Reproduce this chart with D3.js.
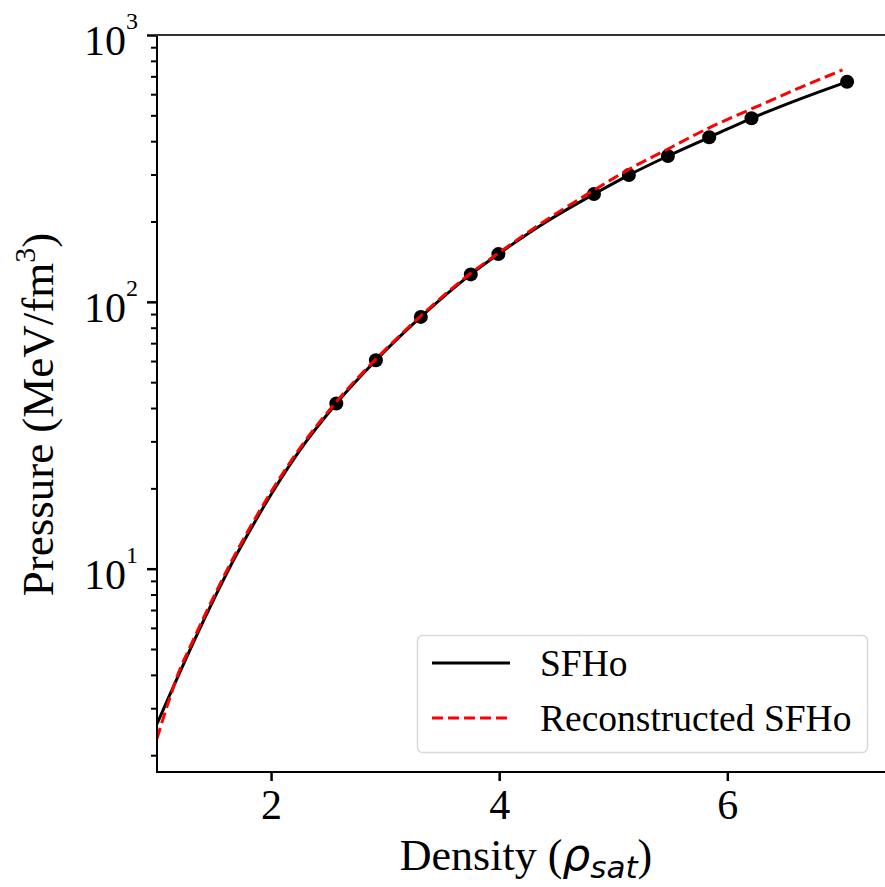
<!DOCTYPE html>
<html>
<head>
<meta charset="utf-8">
<script src="https://cdn.jsdelivr.net/npm/d3@7/dist/d3.min.js"></script>
<style>
body { margin: 0; background: #fff; }
text { font-family: "Liberation Serif", "Times New Roman", serif; fill: #000; }
</style>
</head>
<body>
<script>

// tick labels
var densityTicks = [2, 4, 6];
var pressureTicks = [10, 100, 1000];
var pressureExponents = ["1", "2", "3"];

// SFHo curve
var sfhoDensity = [1.0, 1.1, 1.2, 1.3, 1.4, 1.5, 1.65, 1.8, 2.0, 2.25, 2.572, 2.919, 3.313, 3.751, 3.993, 4.4, 4.831, 5.137, 5.479, 5.841, 6.212, 6.6, 7.05];
var sfhoPressure = [2.62, 3.28, 4.09, 5.08, 6.28, 7.71, 10.35, 13.55, 18.97, 27.7, 41.6, 60.4, 87.8, 126.7, 151, 198, 253.5, 298.6, 352, 413.6, 487.5, 568, 668];

// sampled points (black dots)
var sampleDensity = [2.572, 2.919, 3.313, 3.751, 3.993, 4.831, 5.137, 5.479, 5.841, 6.212, 7.05];
var samplePressure = [41.6, 60.4, 87.8, 126.7, 151, 253.5, 298.6, 352, 413.6, 487.5, 668];

// reconstructed curve
var reconDensity = [1.0, 1.1, 1.2, 1.3, 1.4, 1.5, 1.65, 1.8, 2.0, 2.25, 2.572, 2.919, 3.313, 3.751, 4.0, 4.4, 4.83, 5.15, 5.48, 5.84, 6.21, 6.6, 7.01];
var reconPressure = [2.31, 3.16, 4.19, 5.2, 6.43, 7.89, 10.6, 13.9, 19.4, 28.2, 42.2, 61.0, 88.6, 128, 153, 201, 262, 316, 374, 449, 528, 625, 740];

var seriesNames = ["SFHo", "Reconstructed SFHo"];

var width = 885,
    height = 887,
    plotLeft = 157, plotRight = 895, plotTop = 35, plotBottom = 772;

var svg = d3.select("body").append("svg")
    .attr("width", width)
    .attr("height", height);

var x = d3.scaleLinear()
    .domain([1, 7.47])
    .range([plotLeft, plotRight]);

var y = d3.scaleLog()
    .domain([1.73, 1000])
    .range([plotBottom, plotTop]);

svg.append("clipPath")
    .attr("id", "plot")
  .append("rect")
    .attr("x", plotLeft)
    .attr("y", plotTop)
    .attr("width", plotRight - plotLeft)
    .attr("height", plotBottom - plotTop);

var line = d3.line()
    .x(function(d) { return x(d[0]); })
    .y(function(d) { return y(d[1]); })
    .curve(d3.curveMonotoneX);

var sfho = d3.zip(sfhoDensity, sfhoPressure),
    recon = d3.zip(reconDensity, reconPressure),
    samples = d3.zip(sampleDensity, samplePressure);

var plot = svg.append("g").attr("clip-path", "url(#plot)");

plot.append("path")
    .datum(sfho)
    .attr("d", line)
    .attr("fill", "none")
    .attr("stroke", "#000")
    .attr("stroke-width", 3);

plot.selectAll("circle")
    .data(samples)
    .enter().append("circle")
    .attr("cx", function(d) { return x(d[0]); })
    .attr("cy", function(d) { return y(d[1]); })
    .attr("r", 7)
    .attr("fill", "#000");

plot.append("path")
    .datum(recon)
    .attr("d", line)
    .attr("fill", "none")
    .attr("stroke", "#ff0000")
    .attr("stroke-width", 3)
    .attr("stroke-dasharray", "11,5");

// axes
var xAxis = svg.append("g")
    .attr("transform", "translate(0," + plotBottom + ")")
    .call(d3.axisBottom(x).tickValues(densityTicks).tickSize(9).tickPadding(8).tickFormat(d3.format("d")));

xAxis.select(".domain").remove();
xAxis.selectAll(".tick line").attr("stroke", "#000").attr("stroke-width", 2.5);
xAxis.selectAll(".tick text")
    .attr("font-family", "Liberation Serif")
    .attr("font-size", 42);

var minor = y.ticks().filter(function(v) { return pressureTicks.indexOf(v) < 0; });

var yMinor = svg.append("g")
    .attr("transform", "translate(" + plotLeft + ",0)")
    .call(d3.axisLeft(y).tickValues(minor).tickSize(6).tickFormat(""));
yMinor.select(".domain").remove();
yMinor.selectAll(".tick line").attr("stroke", "#000").attr("stroke-width", 2);

var yMajor = svg.append("g")
    .attr("transform", "translate(" + plotLeft + ",0)")
    .call(d3.axisLeft(y).tickValues(pressureTicks).tickSize(10).tickFormat(""));
yMajor.select(".domain").remove();
yMajor.selectAll(".tick line").attr("stroke", "#000").attr("stroke-width", 2.5);

var yLabels = svg.append("g");
pressureTicks.forEach(function(v, i) {
    var t = yLabels.append("text")
        .attr("x", 138)
        .attr("y", y(v) + 20)
        .attr("text-anchor", "end")
        .attr("font-size", 42);
    t.append("tspan").text("10");
    t.append("tspan")
        .attr("font-size", 24)
        .attr("dy", -26)
        .text(pressureExponents[i]);
});

// spines
svg.append("line")
    .attr("x1", plotLeft).attr("x2", plotLeft)
    .attr("y1", plotTop).attr("y2", plotBottom)
    .attr("stroke", "#000").attr("stroke-width", 2);
svg.append("line")
    .attr("x1", plotLeft - 1).attr("x2", plotRight)
    .attr("y1", plotBottom).attr("y2", plotBottom)
    .attr("stroke", "#000").attr("stroke-width", 2);
svg.append("line")
    .attr("x1", plotLeft - 1).attr("x2", plotRight)
    .attr("y1", plotTop).attr("y2", plotTop)
    .attr("stroke", "#333").attr("stroke-width", 2);
svg.append("line")
    .attr("x1", plotRight).attr("x2", plotRight)
    .attr("y1", plotTop).attr("y2", plotBottom)
    .attr("stroke", "#000").attr("stroke-width", 2);

// axis titles
var xt = svg.append("text")
    .attr("x", (plotLeft + plotRight) / 2)
    .attr("y", 870)
    .attr("text-anchor", "middle")
    .attr("font-size", 44);
xt.append("tspan").text("Density (");
xt.append("tspan")
    .attr("font-family", "DejaVu Sans")
    .attr("font-style", "italic")
    .text("\u03c1");
xt.append("tspan")
    .attr("font-family", "DejaVu Sans")
    .attr("font-style", "italic")
    .attr("font-size", 31)
    .attr("dy", 8)
    .text("sat");
xt.append("tspan")
    .attr("dy", -8)
    .text(")");

var yt = svg.append("text")
    .attr("transform", "translate(53," + ((plotTop + plotBottom) / 2 + 11) + ") rotate(-90)")
    .attr("text-anchor", "middle")
    .attr("font-size", 45);
yt.append("tspan").text("Pressure (MeV/fm");
yt.append("tspan")
    .attr("font-size", 30)
    .attr("dy", -18)
    .text("3");
yt.append("tspan")
    .attr("dy", 18)
    .text(")");

// legend
var legend = svg.append("g");
legend.append("rect")
    .attr("x", 417.5)
    .attr("y", 635.5)
    .attr("width", 450)
    .attr("height", 117)
    .attr("rx", 5)
    .attr("fill", "#fff")
    .attr("fill-opacity", 0.8)
    .attr("stroke", "#d9d9d9")
    .attr("stroke-width", 1.5);

var legendY = d3.scalePoint().domain(seriesNames).range([663, 718]);

legend.selectAll(".entry")
    .data(seriesNames)
    .enter().append("g")
    .attr("class", "entry")
    .each(function(name, i) {
        var g = d3.select(this);
        g.append("line")
            .attr("x1", 432).attr("x2", 510)
            .attr("y1", legendY(name)).attr("y2", legendY(name))
            .attr("stroke", i ? "#ff0000" : "#000")
            .attr("stroke-width", 3)
            .attr("stroke-dasharray", i ? "11,5" : null);
        g.append("text")
            .attr("x", 540)
            .attr("y", legendY(name) + 13)
            .attr("font-size", 37.5)
            .text(name);
    });

</script>
</body>
</html>
